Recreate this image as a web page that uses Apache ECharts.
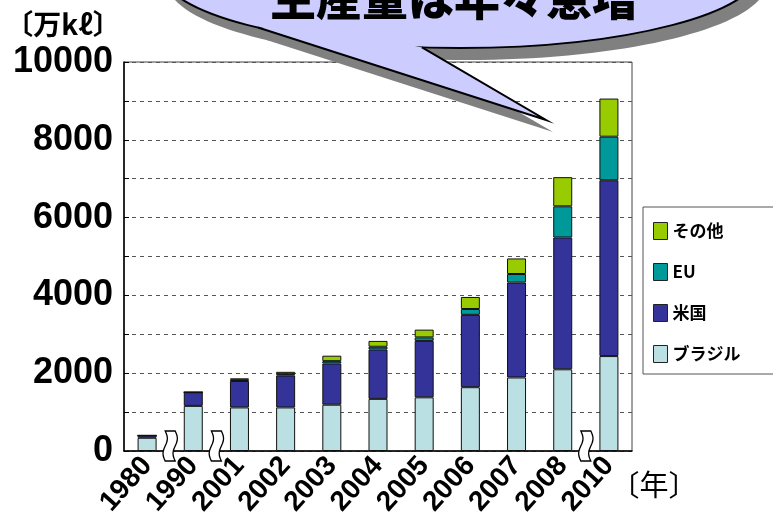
<!DOCTYPE html>
<html>
<head>
<meta charset="utf-8">
<script src="https://cdn.jsdelivr.net/npm/echarts@6/dist/echarts.min.js"></script>
<style>
  html, body { margin: 0; padding: 0; background: #fff; }
  #chart { width: 773px; height: 523px; }
</style>
</head>
<body>
<div id="chart"></div>
<script>
// ── data (万kℓ) ─────────────────────────────────────────
const years    = ['1980', '1990', '2001', '2002', '2003', '2004', '2005', '2006', '2007', '2008', '2010']
const brazil   = [340, 1160, 1120, 1120, 1190, 1340, 1380, 1640, 1890, 2100, 2440]
const usa      = [60, 350, 680, 820, 1060, 1270, 1450, 1860, 2440, 3390, 4520]
const eu       = [0, 0, 40, 35, 60, 70, 90, 150, 220, 800, 1120]
const others   = [0, 0, 20, 60, 140, 150, 200, 310, 400, 750, 980]
const breakAfter = ['1980', '1990', '2008']   // axis breaks drawn after these years

const COLOR_BRAZIL = '#bbe0e3'
const COLOR_USA    = '#333399'
const COLOR_EU     = '#009999'
const COLOR_OTHERS = '#99cc00'

const FONT_JP  = '"Noto Sans CJK JP", "Liberation Sans", sans-serif'
const FONT_NUM = '"Liberation Sans", Arial, sans-serif'

const chart = echarts.init(document.getElementById('chart'))

const barSeries = (name, data, color) => ({
  name, type: 'bar', stack: 'total', data,
  barWidth: 19,
  itemStyle: { color, borderColor: '#111', borderWidth: 1 },
})

chart.setOption({
  animation: false,
  grid: { left: 124, right: 141, top: 62, bottom: 72, show: true, borderColor: '#444', borderWidth: 1 },
  legend: {
    orient: 'vertical', left: 643, top: 207,
    padding: [15, 80, 11, 10],
    borderColor: '#555', borderWidth: 1,
    itemWidth: 14, itemHeight: 17, itemGap: 23,
    icon: 'rect',
    data: ['その他', 'EU', '米国', 'ブラジル'],
    itemStyle: { borderColor: '#222', borderWidth: 1 },
    textStyle: { fontFamily: FONT_JP, fontWeight: 'bold', fontSize: 17, color: '#000' },
  },
  xAxis: {
    type: 'category', data: years,
    axisLine: { lineStyle: { color: '#000', width: 1.5 } },
    axisTick: { inside: true, length: 5, lineStyle: { color: '#000' } },
    axisLabel: {
      interval: 0, rotate: 48, margin: 10, color: '#000',
      fontFamily: FONT_NUM, fontWeight: 'bold', fontSize: 28,
    },
  },
  yAxis: {
    type: 'value', min: 0, max: 10000, interval: 1000,
    axisLine: { show: true, lineStyle: { color: '#000', width: 1.5 } },
    axisTick: { show: true, inside: true, length: 5, lineStyle: { color: '#000' } },
    splitLine: { lineStyle: { color: '#555', type: [4, 4], width: 1 } },
    axisLabel: {
      margin: 11, color: '#000', fontFamily: FONT_NUM, fontWeight: 'bold', fontSize: 36,
      formatter: v => (v % 2000 === 0 ? String(v) : ''),
    },
  },
  series: [
    barSeries('ブラジル', brazil, COLOR_BRAZIL),
    barSeries('米国', usa, COLOR_USA),
    barSeries('EU', eu, COLOR_EU),
    barSeries('その他', others, COLOR_OTHERS),
  ],
})

// wavy "axis break" outline, about 14 x 30 px
function breakShape() {
  const right = [], left = []
  for (let k = 0; k <= 12; k++) {
    const t = k / 12
    const w = 2.2 * Math.sin(t * Math.PI * 2)
    right.push([12 + w, t * 30])
    left.push([2 + w, t * 30])
  }
  return right.concat(left.reverse())
}

// ── annotations: axis breaks, callout, unit labels ──────
function drawGraphics() {
  const y0 = chart.convertToPixel({ yAxisIndex: 0 }, 0)
  const shape = breakShape()
  const breaks = breakAfter.map((yr) => {
    const idx = years.indexOf(yr)
    const x = (chart.convertToPixel({ xAxisIndex: 0 }, years[idx]) +
               chart.convertToPixel({ xAxisIndex: 0 }, years[idx + 1])) / 2
    return {
      type: 'polygon', z: 50,
      x: x - 7, y: y0 - 20,
      shape: { points: shape },
      style: { fill: '#fff', stroke: '#000', lineWidth: 1.3 },
    }
  })

  // speech bubble: ellipse + tail with grey shadow
  const cx = 460, cy = -30, rx = 300, ry = 78
  const tail = [[258, 27.5], [546, 120], [422, 47.4], [340, 30]]
  const sdx = 7, sdy = 12
  const bubble = [
    { type: 'ellipse', z: 100, shape: { cx: cx + sdx, cy: cy + sdy, rx, ry }, style: { fill: '#808080' } },
    { type: 'polygon', z: 100, shape: { points: tail.map(p => [p[0] + sdx, p[1] + sdy]) }, style: { fill: '#808080' } },
    { type: 'ellipse', z: 101, shape: { cx, cy, rx, ry }, style: { fill: '#ccccff', stroke: '#000', lineWidth: 2 } },
    { type: 'polygon', z: 102, shape: { points: tail }, style: { fill: '#ccccff' } },
    { type: 'polyline', z: 103, shape: { points: tail.slice(0, 3) }, style: { stroke: '#000', lineWidth: 2 } },
    { type: 'text', z: 104, x: 454, y: -2,
      style: { text: '生産量は年々急増', font: '900 46px ' + FONT_JP,
               fill: '#000', align: 'center', verticalAlign: 'middle' } },
  ]

  const labels = [
    { type: 'text', x: 63, y: 24, z: 10,
      style: { text: '〔万kℓ〕', font: 'bold 28px ' + FONT_JP,
               fill: '#000', align: 'center', verticalAlign: 'middle' } },
    { type: 'text', x: 654, y: 485, z: 10,
      style: { text: '〔年〕', font: '29px ' + FONT_JP,
               fill: '#000', align: 'center', verticalAlign: 'middle' } },
  ]

  chart.setOption({ graphic: { elements: [...breaks, ...bubble, ...labels] } })
}
drawGraphics()
</script>
</body>
</html>
